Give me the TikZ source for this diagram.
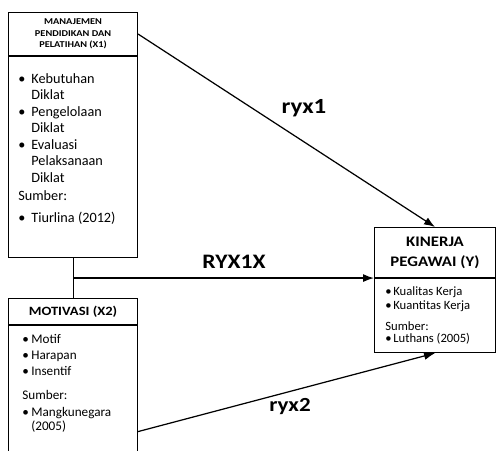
\documentclass[tikz,border=0pt]{standalone}
\usepackage{fontspec}
\setmainfont{Carlito}[FakeStretch=1.15]
\newfontfamily\bodyfont{Carlito}
\usetikzlibrary{arrows.meta}
\newcommand{\bul}[1]{\makebox[#1][l]{\textbullet}}

\begin{document}
\begin{tikzpicture}[x=0.2mm,y=-0.2mm,
    box/.style={draw,line width=0.6pt,inner sep=0,anchor=north west},
    txt/.style={anchor=north west,inner sep=0,align=left},
    arr/.style={-{Latex[length=2.2mm,width=1.6mm]},line width=0.7pt},
    lbl/.style={font=\fontsize{11.7}{13}\selectfont\bfseries}]
    \useasboundingbox (0,0) rectangle (497,451);
    \fill[white] (0,0) rectangle (497,451);
    \clip (0,0) rectangle (497,451);

    % X1
    \node[box,minimum width=25.8mm,minimum height=8.6mm,align=center,font=\fontsize{5.1}{6.5}\selectfont\bfseries] (x1h) at (8,12) {MANAJEMEN\\PENDIDIKAN DAN\\PELATIHAN (X1)};
    \node[box,minimum width=25.8mm,minimum height=40.2mm] (x1b) at (x1h.south west) {};
    \node[txt,font=\bodyfont\fontsize{8.1}{9.4}\selectfont] (x1t) at (18,73) {\bul{2.6mm}Kebutuhan\\\hspace*{2.6mm}Diklat\\\bul{2.6mm}Pengelolaan\\\hspace*{2.6mm}Diklat\\\bul{2.6mm}Evaluasi\\\hspace*{2.6mm}Pelaksanaan\\\hspace*{2.6mm}Diklat\\[1.2pt]Sumber:\\[3pt]\bul{2.6mm}Tiurlina (2012)};

    % X2
    \node[box,minimum width=25.8mm,minimum height=5.2mm,font=\fontsize{7.2}{9}\selectfont\bfseries] (x2h) at (8,298) {MOTIVASI (X2)};
    \node[box,minimum width=25.8mm,minimum height=42.4mm] (x2b) at (x2h.south west) {};
    \node[txt,font=\bodyfont\fontsize{7.5}{9.2}\selectfont] (x2t) at (22,334) {\bul{1.8mm}Motif\\\bul{1.8mm}Harapan\\\bul{1.8mm}Insentif\\[4.4pt]Sumber:\\[0.4pt]\bul{1.8mm}Mangkunegara\\[-1.2pt]\hspace*{1.8mm}(2005)};

    % Y
    \node[box,minimum width=24.2mm,minimum height=10mm,align=center,font=\fontsize{8.3}{11.4}\selectfont\bfseries] (yh) at (374,227) {KINERJA\\PEGAWAI (Y)};
    \node[box,minimum width=24.2mm,minimum height=14.8mm] (yb) at (yh.south west) {};
    \node[txt,font=\bodyfont\fontsize{7.2}{8}\selectfont] (yt) at (385,286) {\bul{1.6mm}Kualitas Kerja\\\bul{1.6mm}Kuantitas Kerja\\[4pt]Sumber:\\[-1pt]\bul{1.6mm}Luthans (2005)};

    % paths
    \coordinate (jn) at (x1b.south |- yh.south);
    \draw[line width=0.6pt] (x1b.south) -- (x2h.north);
    \draw[arr] (jn) -- (yh.south west);
    \draw[arr] (x1h.east) -- (yh.north);
    \draw[arr] (x2b.east) -- (yb.south);

    \node[lbl,font=\fontsize{12.3}{13}\selectfont\bfseries] (ryx1) at (304,108) {ryx1};
    \node[lbl] (ryx1x) at (234,262) {RYX1X};
    \node[lbl,font=\fontsize{11.4}{13}\selectfont\bfseries] (ryx2) at (290,407) {ryx2};
\end{tikzpicture}
\end{document}
